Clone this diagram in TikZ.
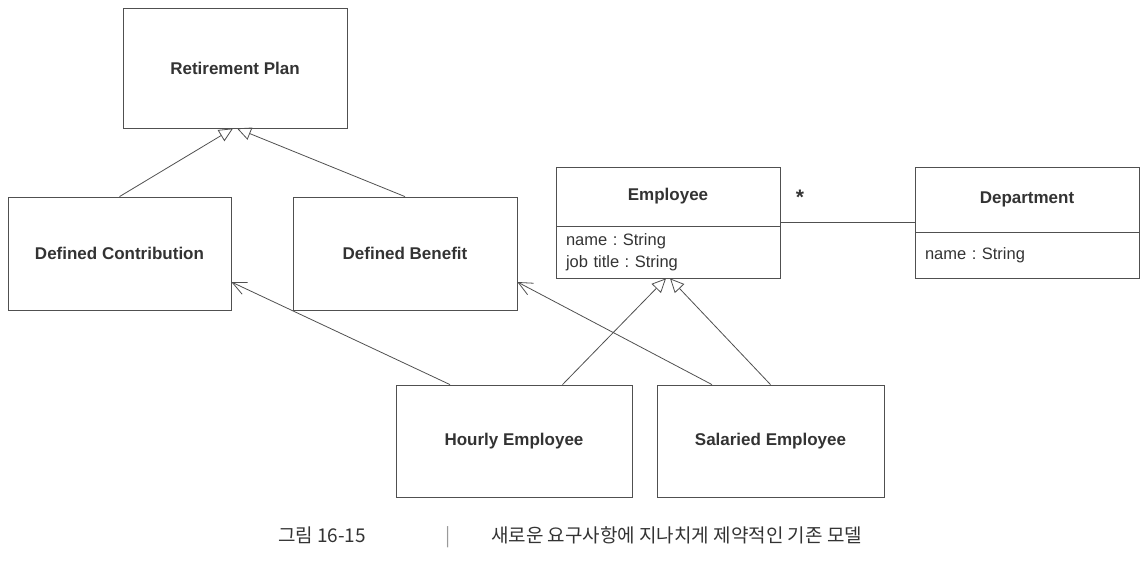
\documentclass[tikz,border=0pt]{standalone}
\usepackage{fontspec}
\setmainfont{Liberation Sans}
\newfontfamily\cjk{Noto Sans CJK KR}
\usepackage{tikz}
\usetikzlibrary{arrows.meta}
\definecolor{linegray}{HTML}{505050}
\definecolor{textgray}{HTML}{333333}
\definecolor{bargray}{HTML}{9A9A9A}
\frenchspacing
\tikzset{
  classbox/.style={draw=linegray, line width=0.8pt, text=textgray, font=\fontsize{17}{22}\selectfont\bfseries},
  attrbox/.style={draw=linegray, line width=0.8pt, text=textgray, align=left, inner xsep=10pt, font=\fontsize{16.5}{22}\selectfont},
  inherit/.style={draw=linegray, line width=0.8pt, -{Triangle[open, length=14pt, width=13pt]}},
  navigate/.style={draw=linegray, line width=0.8pt, -{Straight Barb[length=14pt, width=13pt]}},
  assoc/.style={draw=linegray, line width=0.8pt}
}
\newcommand{\umlclass}[5] {\node at (#1) (#2) [classbox, minimum width=#4, minimum height=#5] {#3};}
\newcommand{\umlattr}[5] {\node at (#1) (#2) [attrbox, text width=#4-20pt, minimum height=#5] {#3};}
\newcommand{\umlinherit}[2] {\draw [inherit] (#1) -- (#2);}
\newcommand{\umlnavigate}[2] {\draw [navigate] (#1) -- (#2);}
\newcommand{\umlassoc}[2] {\draw [assoc] (#1) -- (#2);}

\begin{document}
\begin{tikzpicture}[x=1pt, y=-1pt]
\useasboundingbox (0,0) rectangle (1146,571);

\umlclass {235,68} {rp} {Retirement Plan} {224pt} {120pt};
\umlclass {119.5,253.5} {dc} {Defined Contribution} {223pt} {113pt};
\umlclass {405,253.5} {db} {Defined Benefit} {224pt} {113pt};
\umlclass {668,196.5} {emp} {Employee} {224pt} {59pt};
\umlattr {668,252} {empattr} {name : String\\job title : String} {224pt} {52pt};
\umlclass {1027,199.5} {dept} {Department} {224pt} {65pt};
\umlattr {1027,255} {deptattr} {name : String} {224pt} {46pt};
\umlclass {514,441} {hourly} {Hourly Employee} {236pt} {112pt};
\umlclass {770.5,441} {salaried} {Salaried Employee} {227pt} {112pt};

\umlinherit{dc.north}{[xshift=-2pt]rp.south};
\umlinherit{db.north}{[xshift=2pt]rp.south};
\umlinherit{[xshift=48.5pt]hourly.north}{[xshift=-2pt]empattr.south};
\umlinherit{salaried.north}{[xshift=2pt]empattr.south};
\umlnavigate{[xshift=-64pt]hourly.north}{[yshift=-28.5pt]dc.east};
\umlnavigate{[xshift=-58.5pt]salaried.north}{[yshift=-28.5pt]db.east};
\umlassoc{[yshift=-25.5pt]emp.east}{[yshift=-22.5pt]dept.west};

\node at (800,197) (mult) [text=textgray, font=\fontsize{21}{21}\selectfont\bfseries] {*};
\node at (570,537) (caption) [text=textgray, font=\cjk\fontsize{19}{19}\selectfont] {그림 16-15\hspace{80pt}\textcolor{bargray}{|}\hspace{40pt}새로운 요구사항에 지나치게 제약적인 기존 모델};

\end{tikzpicture}
\end{document}
